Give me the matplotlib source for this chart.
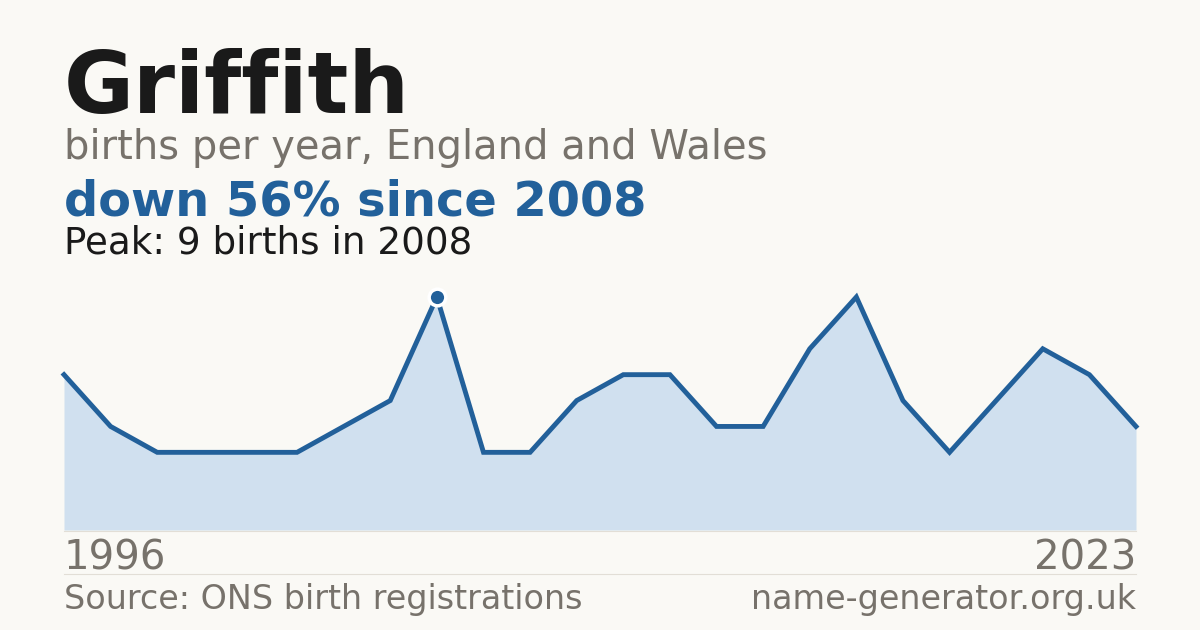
import matplotlib
matplotlib.use("Agg")
import matplotlib.pyplot as plt
from matplotlib.lines import Line2D

# births per year (registered years only, evenly spaced as in the chart)
births = [6, 4, 3, 3, 3, 3, 4, 5, 9, 3, 3, 5, 6, 6, 4, 4, 7, 9, 5, 3, 5, 7, 6, 4]
first_year = "1996"
last_year = "2023"
peak_index = 8

BG = "#faf9f5"
BLUE = "#22609a"
FILL = "#d0e0ef"
GREY = "#77726b"
DARK = "#1a1a1a"

plt.rcParams["font.family"] = ["DejaVu Sans"]

W, H = 1200, 630
fig = plt.figure(figsize=(W / 100, H / 100), dpi=100, facecolor=BG)


def fx(px):
    return px / W


def fy(py):
    return 1 - py / H


ax = fig.add_axes([fx(64), fy(530), fx(1136) - fx(64), fy(297) - fy(530)])
ax.set_facecolor(BG)
xs = list(range(len(births)))
ax.fill_between(xs, births, 0, color=FILL, lw=0)
ax.plot(xs, births, color=BLUE, lw=3.5, solid_joinstyle="miter", clip_on=False)
ax.plot(xs[peak_index], births[peak_index], "o", ms=12, mfc=BLUE,
        mec="white", mew=2.5, clip_on=False, zorder=5)
ax.set_xlim(0, len(births) - 1)
ax.set_ylim(0, max(births))
ax.axis("off")

fig.text(fx(64), fy(113), "Griffith", fontsize=61.5, fontweight="bold",
         color=DARK, va="baseline")
fig.text(fx(64), fy(159), "births per year, England and Wales", fontsize=28.8,
         color=GREY, va="baseline")
fig.text(fx(64), fy(215), "down 56% since 2008", fontsize=34.5,
         fontweight="bold", color=BLUE, va="baseline")
fig.text(fx(64), fy(253), "Peak: 9 births in 2008", fontsize=26.8,
         color=DARK, va="baseline")

fig.text(fx(64), fy(570), first_year, fontsize=29, color=GREY, va="baseline")
fig.text(fx(1136), fy(570), last_year, fontsize=29, color=GREY,
         va="baseline", ha="right")

fig.add_artist(Line2D([fx(64), fx(1136)], [fy(530.5), fy(530.5)],
                      color="#e2ded6", lw=0.8))
fig.add_artist(Line2D([fx(64), fx(1136)], [fy(574), fy(574)],
                      color="#e2ded6", lw=0.8))

fig.text(fx(64), fy(609), "Source: ONS birth registrations", fontsize=24,
         color=GREY, va="baseline")
fig.text(fx(1136), fy(609), "name-generator.org.uk", fontsize=24,
         color=GREY, va="baseline", ha="right")

fig.savefig("out.png", dpi=100, facecolor=BG)
